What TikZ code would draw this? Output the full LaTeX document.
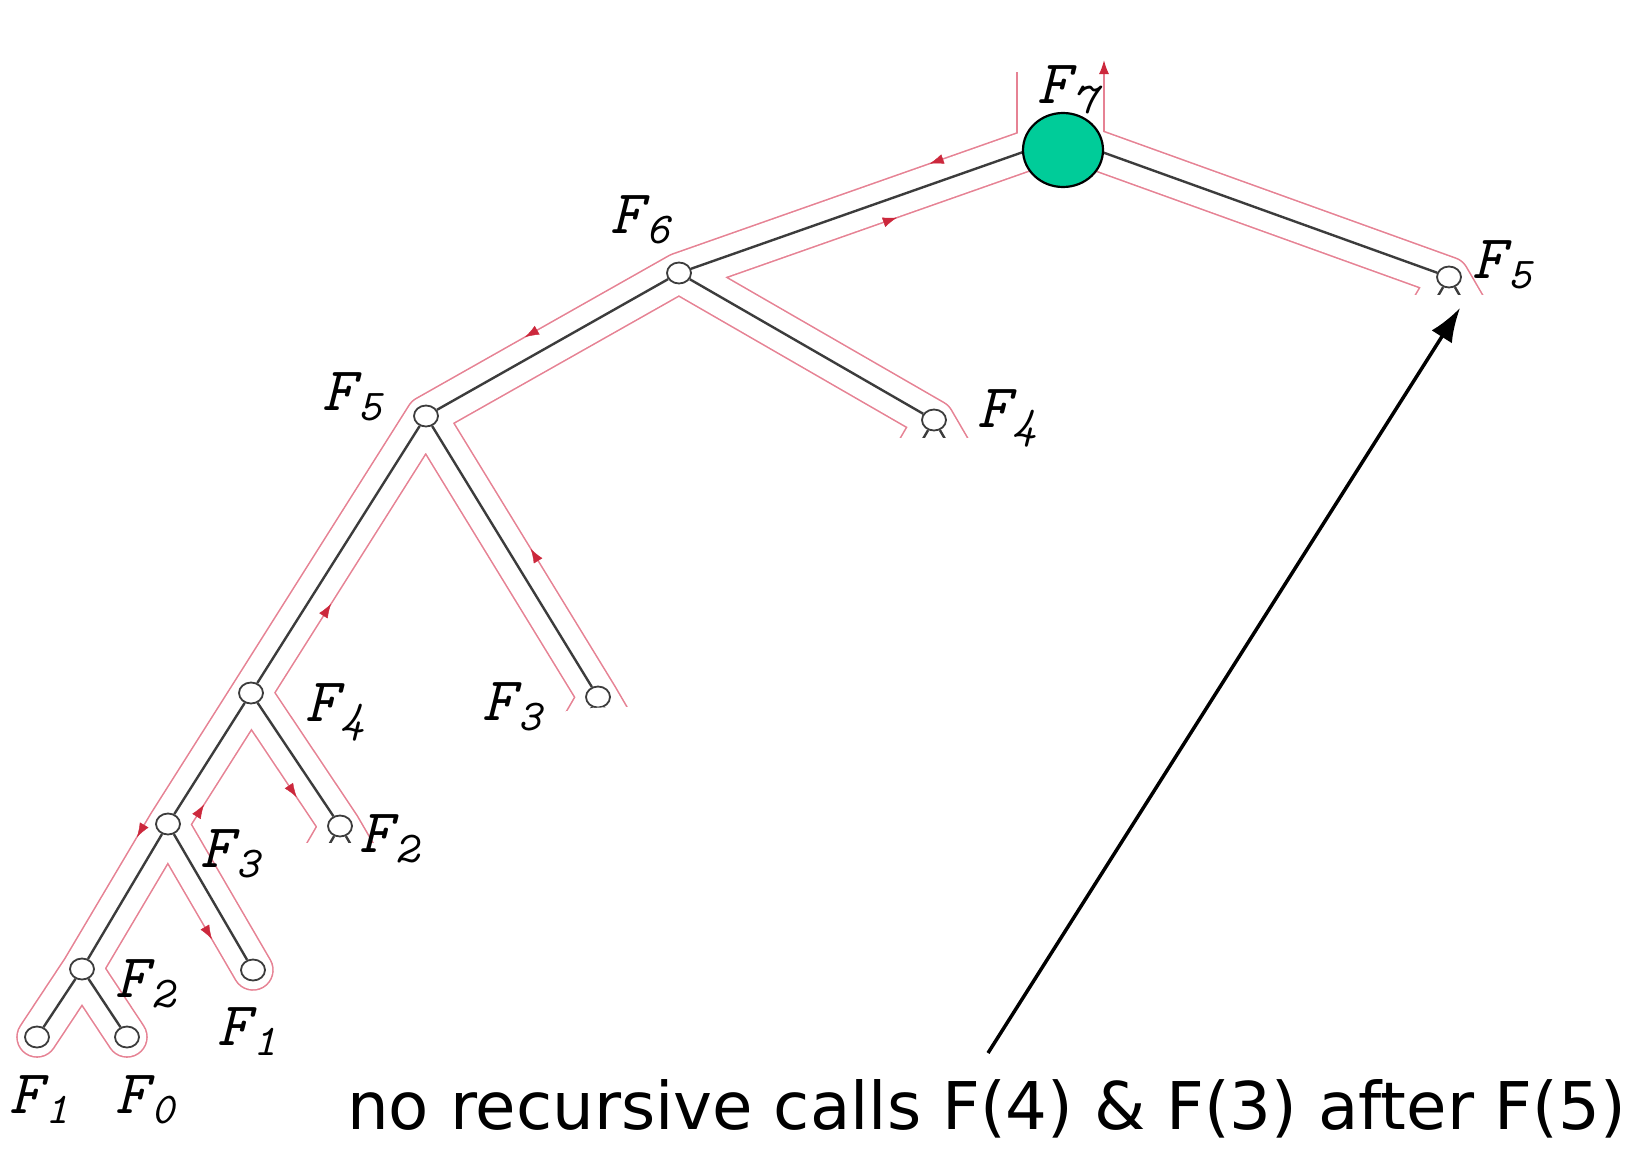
\documentclass[tikz,border=0pt]{standalone}
\usepackage{fontspec}
\setsansfont{DejaVu Sans}
\usetikzlibrary{arrows.meta,calc,shapes.geometric,decorations.markings}
\definecolor{tourred}{RGB}{230,130,148}
\definecolor{tipred}{RGB}{204,40,60}
\definecolor{rootgreen}{RGB}{0,204,153}
\definecolor{treegray}{RGB}{60,60,60}
\pgfdeclarelayer{bg}
\pgfsetlayers{bg,main}

\newcommand\fib[1]{F\kern4pt\raisebox{-10pt}{\fontsize{44}{44}\selectfont #1}}
% every call edge, also the stubs of the hidden subtrees
\newcommand\callpaths{(root)--(f6.center) (root)--(f5r.center)
  (f6.center)--(f5.center) (f6.center)--(f4r.center)
  (f5.center)--(f4.center) (f5.center)--(f3m.center)
  (f4.center)--(f3.center) (f4.center)--(f2r.center)
  (f3.center)--(f2.center) (f3.center)--(f1m.center)
  (f2.center)--(f1.center) (f2.center)--(f0.center)
  (f5r.center)--+(-25,43) (f5r.center)--+(25,43)
  (f4r.center)--+(-25,43) (f4r.center)--+(25,43)
  (f3m.center)--+(-25,43) (f3m.center)--+(25,43)
  (f2r.center)--+(-25,43) (f2r.center)--+(25,43)}
\newcommand\tourtip[3]{\path[tourmark=#3] ($(#1)!20pt!-90:(#2)$) -- ($(#2)!20pt!90:(#1)$);}

\begin{document}
\begin{tikzpicture}[x=1pt,y=-1pt,
  call/.style={ellipse,draw=treegray,fill=white,line width=1.8pt,minimum width=24pt,minimum height=21pt,inner sep=0pt},
  treeline/.style={draw=treegray,line width=2.4pt},
  tourout/.style={draw=tourred,line width=41.6pt,line cap=round,line join=round},
  tourin/.style={draw=white,line width=38.4pt,line cap=round,line join=round},
  tourmark/.style={postaction={decorate},decoration={markings,mark=at position #1 with {\arrow{Latex[length=14pt,width=10pt,color=tipred]}}}},
  fname/.style={anchor=base west,inner sep=0pt,font={\fontsize{62}{62}\ttfamily\itshape}}]
\useasboundingbox (0,0) rectangle (1635,1148);

% calls
\coordinate (root) at (1063,138);
\node[call] (f6) at (679,273) {};
\node[call] (f5r) at (1449,277) {};
\node[call] (f5) at (426,416) {};
\node[call] (f4r) at (934,420) {};
\node[call] (f3m) at (598,697) {};
\node[call] (f4) at (251,693) {};
\node[call] (f3) at (168,824) {};
\node[call] (f2r) at (340,826) {};
\node[call] (f2) at (82,969) {};
\node[call] (f1m) at (253,970) {};
\node[call] (f1) at (37,1037) {};
\node[call] (f0) at (127,1037) {};
\node[ellipse,draw=black,fill=rootgreen,line width=2.2pt,minimum width=80pt,minimum height=74pt] (f7) at (1063,150) {};

% tour round the tree, and the tree
\begin{pgfonlayer}{bg}
\draw[tourout,line cap=butt,line width=88.6pt] (1060.5,72) -- (1060.5,140);
\draw[tourout] \callpaths;
\draw[tourin,line cap=butt,line width=85.4pt] (1060.5,72) -- (1060.5,140);
\draw[tourin] \callpaths;
\draw[treeline] (root)--(f6) (root)--(f5r) (f6)--(f5) (f6)--(f4r)
  (f5)--(f4) (f5)--(f3m) (f4)--(f3) (f4)--(f2r)
  (f3)--(f2) (f3)--(f1m) (f2)--(f1) (f2)--(f0)
  (f5r)--+(-25,43) (f5r)--+(25,43) (f4r)--+(-25,43) (f4r)--+(25,43)
  (f3m)--+(-25,43) (f3m)--+(25,43) (f2r)--+(-25,43) (f2r)--+(25,43);
\end{pgfonlayer}

% cut-off subtrees
\fill[white] (1370,295) rectangle (1635,1000);
\fill[white] (850,438) rectangle (1010,700);
\fill[white] (620,800) ellipse [x radius=180pt,y radius=93pt];
\fill[white,rounded corners=28pt] (277,843) rectangle (470,1010);

% direction of the tour
\tourtip{root}{f6}{0.33}
\tourtip{f6}{root}{0.55}
\tourtip{f6}{f5}{0.57}
\tourtip{f3m}{f5}{0.49}
\tourtip{f4}{f5}{0.36}
\tourtip{f3}{f2}{0.16}
\tourtip{f3}{f4}{0.23}
\tourtip{f4}{f2r}{0.70}
\tourtip{f3}{f1m}{0.72}
\draw[draw=tourred,line width=1.6pt,-{Latex[length=14pt,width=10pt,color=tipred]}] (1104,80) -- (1104,60);

% labels
\node[fname] (l7) at (1037,103) {\fib{7}};
\node[fname] (l6) at (610,233) {\fib{6}};
\node[fname] (l5r) at (1472,278) {\fib{5}};
\node[fname] (l5) at (322,410) {\fib{5}};
\node[fname] (l4r) at (977,427) {\fib{4}};
\node[fname] (l4) at (305,721) {\fib{4}};
\node[fname] (l3m) at (482,720) {\fib{3}};
\node[fname] (l3) at (200,867) {\fib{3}};
\node[fname] (l2r) at (359,852) {\fib{2}};
\node[fname] (l2) at (115,997) {\fib{2}};
\node[fname] (l1m) at (217,1045) {\fib{1}};
\node[fname] (l1) at (9,1113) {\fib{1}};
\node[fname] (l0) at (115,1113) {\fib{0}};

% remark
\node[anchor=base west,inner sep=0pt,font=\sffamily\fontsize{65.8}{66}\selectfont] (note) at (347,1129) {no recursive calls F(4) \& F(3) after F(5)};
\coordinate (hint) at (988,1053);
\coordinate (aim) at (1460,308);
\draw[line width=3.5pt,-{Latex[length=34pt,width=24pt]}] (hint) -- (aim);
\end{tikzpicture}
\end{document}
